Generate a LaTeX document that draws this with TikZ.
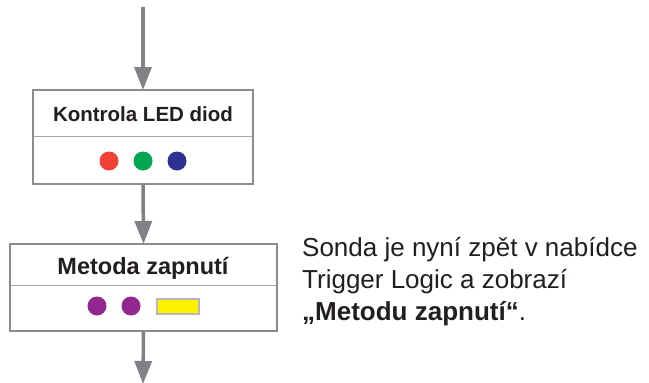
\documentclass[tikz,border=0pt]{standalone}
\usepackage{fontspec}
\setmainfont{Liberation Sans}
\usetikzlibrary{arrows.meta}
\definecolor{framegray}{HTML}{8C8C8E}
\definecolor{rulegray}{HTML}{A8A8AA}
\definecolor{arrowgray}{HTML}{808285}
\definecolor{ledred}{HTML}{EF4136}
\definecolor{ledgreen}{HTML}{00A651}
\definecolor{ledblue}{HTML}{2E3192}
\definecolor{ledpurple}{HTML}{92278F}
\definecolor{ledyellow}{HTML}{FFF200}
\definecolor{textblack}{HTML}{231F20}
\tikzset{
  stepbox/.style={draw=framegray, line width=2pt, rectangle, inner sep=0pt},
  divider/.style={draw=rulegray, line width=1pt},
  flow/.style={draw=arrowgray, line width=3.5pt,
    -{Triangle[length=23pt,width=17pt]}, shorten >=-1pt},
  led/.style={circle, inner sep=0pt, minimum size=19pt, fill=#1},
  lamp/.style={rectangle, inner sep=0pt, minimum width=42pt, minimum height=15pt,
    fill=ledyellow, draw=black!28, line width=2pt},
  boxtitle/.style={inner sep=0pt, anchor=base, text=textblack, font=\bfseries},
  note/.style={inner sep=0pt, anchor=base west, text=textblack,
    font=\fontsize{26pt}{32pt}\selectfont},
}
\begin{document}
\begin{tikzpicture}[x=1pt, y=-1pt]
  \useasboundingbox (0,0) rectangle (649,383);
  \fill[white] (0,0) rectangle (649,383);

  % first step: LED check
  \node[stepbox, minimum width=220pt, minimum height=94pt] (check) at (143,137) {};
  \draw[divider] (34,136) -- (252,136);
  \node[boxtitle, font=\bfseries\fontsize{20.5pt}{24pt}\selectfont] (checktitle) at (143,121) {Kontrola LED diod};
  \node[led=ledred] (red) at (109,161) {};
  \node[led=ledgreen] (green) at (143,161) {};
  \node[led=ledblue] (blue) at (177,161) {};

  % second step: switch-on method
  \node[stepbox, minimum width=267pt, minimum height=87pt] (method) at (143.5,287.5) {};
  \draw[divider] (11,285) -- (276,285);
  \node[boxtitle, font=\bfseries\fontsize{23.5pt}{28pt}\selectfont] (methodtitle) at (143,274) {Metoda zapnutí};
  \node[led=ledpurple] (purple1) at (97,306) {};
  \node[led=ledpurple] (purple2) at (131,306) {};
  \node[lamp] (yellow) at (177.5,306) {};

  % connectors
  \coordinate (entry) at (143,7);
  \coordinate (exit) at (143,383);
  \draw[flow] (entry) -- (check.north);
  \draw[flow] (check.south) -- (method.north);
  \draw[flow] (method.south) -- (exit);

  % explanation
  \node[note] (line1) at (302,256) {Sonda je nyní zpět v nabídce};
  \node[note] (line2) at (302,288) {Trigger Logic a zobrazí};
  \node[note] (line3) at (302,320) {\textbf{„Metodu zapnutí“}.};
\end{tikzpicture}
\end{document}
